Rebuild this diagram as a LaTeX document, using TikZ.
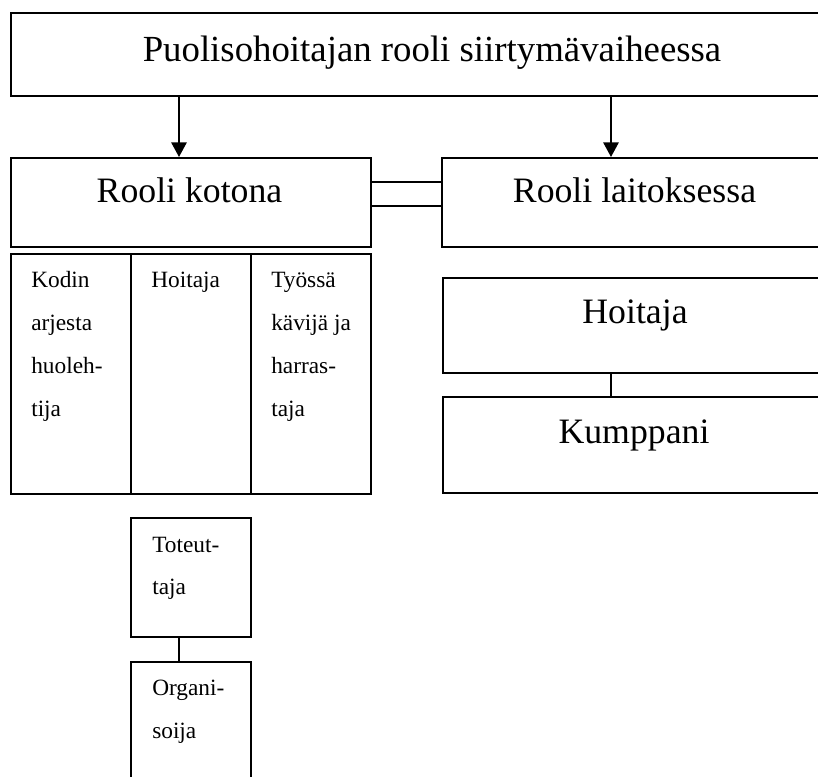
\documentclass[tikz,border=0pt]{standalone}
\usepackage{fontspec}
\setmainfont{Liberation Serif}
\usetikzlibrary{arrows.meta,fit}
\begin{document}
\begin{tikzpicture}[x=0.75pt,y=-0.75pt,
  box/.style={draw,line width=1.5pt,inner sep=0pt,rectangle},
  link/.style={line width=1.5pt},
  arr/.style={line width=1.5pt,-{Triangle[length=11pt,width=11.5pt]}},
  titletext/.style={anchor=base,inner sep=0pt,font=\fontsize{27.6}{32}\selectfont},
  bigtext/.style={anchor=base,inner sep=0pt,font=\fontsize{26.8}{32}\selectfont},
  smalltext/.style={anchor=base west,inner sep=0pt,font=\fontsize{17.5}{21}\selectfont}]
\useasboundingbox (0,0) rectangle (818,776);
\clip (0,0) rectangle (818,776);

% boxes
\node[box,fit={(10.7,13.3)(840,96)}] (top) {};
\node[box,fit={(10.7,158)(371,247)}] (kotona) {};
\node[box,fit={(442,158)(840,247)}] (laitos) {};
\node[box,fit={(11,254)(131,494)}] (col1) {};
\node[box,fit={(131,254)(251,494)}] (col2) {};
\node[box,fit={(251,254)(371,494)}] (col3) {};
\node[box,fit={(443,278)(840,373)}] (hoit) {};
\node[box,fit={(443,397)(840,493)}] (kump) {};
\node[box,fit={(131,518)(251,637)}] (tot) {};
\node[box,fit={(131,662)(251,800)}] (org) {};

% texts
\node[titletext] (t0) at (432,61) {Puolisohoitajan rooli siirtymävaiheessa};
\node[bigtext] (tk) at (189.5,202.5) {Rooli kotona};
\node[bigtext] (tl) at (634.5,202.5) {Rooli laitoksessa};
\node[bigtext] (th) at (635,323.5) {Hoitaja};
\node[bigtext] (tm) at (634,443.5) {Kumppani};

\node[smalltext] (a1) at (31,287) {Kodin};
\node[smalltext] (a2) at (31,330) {arjesta};
\node[smalltext] (a3) at (31,373) {huoleh-};
\node[smalltext] (a4) at (31,416) {tija};
\node[smalltext] (b1) at (151,287) {Hoitaja};
\node[smalltext] (c1) at (271,287) {Työssä};
\node[smalltext] (c2) at (271,330) {kävijä ja};
\node[smalltext] (c3) at (271,373) {harras-};
\node[smalltext] (c4) at (271,416) {taja};
\node[smalltext] (d1) at (152,552) {Toteut-};
\node[smalltext] (d2) at (152,594) {taja};
\node[smalltext] (e1) at (152,695) {Organi-};
\node[smalltext] (e2) at (152,738) {soija};

% connector positions
\coordinate (ax1) at (179,0);
\coordinate (ax2) at (611,0);
\coordinate (ly1) at (0,182);
\coordinate (ly2) at (0,205.5);

% connectors
\draw[arr] (top.south -| ax1) -- (kotona.north -| ax1);
\draw[arr] (top.south -| ax2) -- (laitos.north -| ax2);
\draw[link] (kotona.east |- ly1) -- (laitos.west |- ly1);
\draw[link] (kotona.east |- ly2) -- (laitos.west |- ly2);
\draw[link] (hoit.south -| ax2) -- (kump.north -| ax2);
\draw[link] (tot.south -| ax1) -- (org.north -| ax1);
\end{tikzpicture}
\end{document}
